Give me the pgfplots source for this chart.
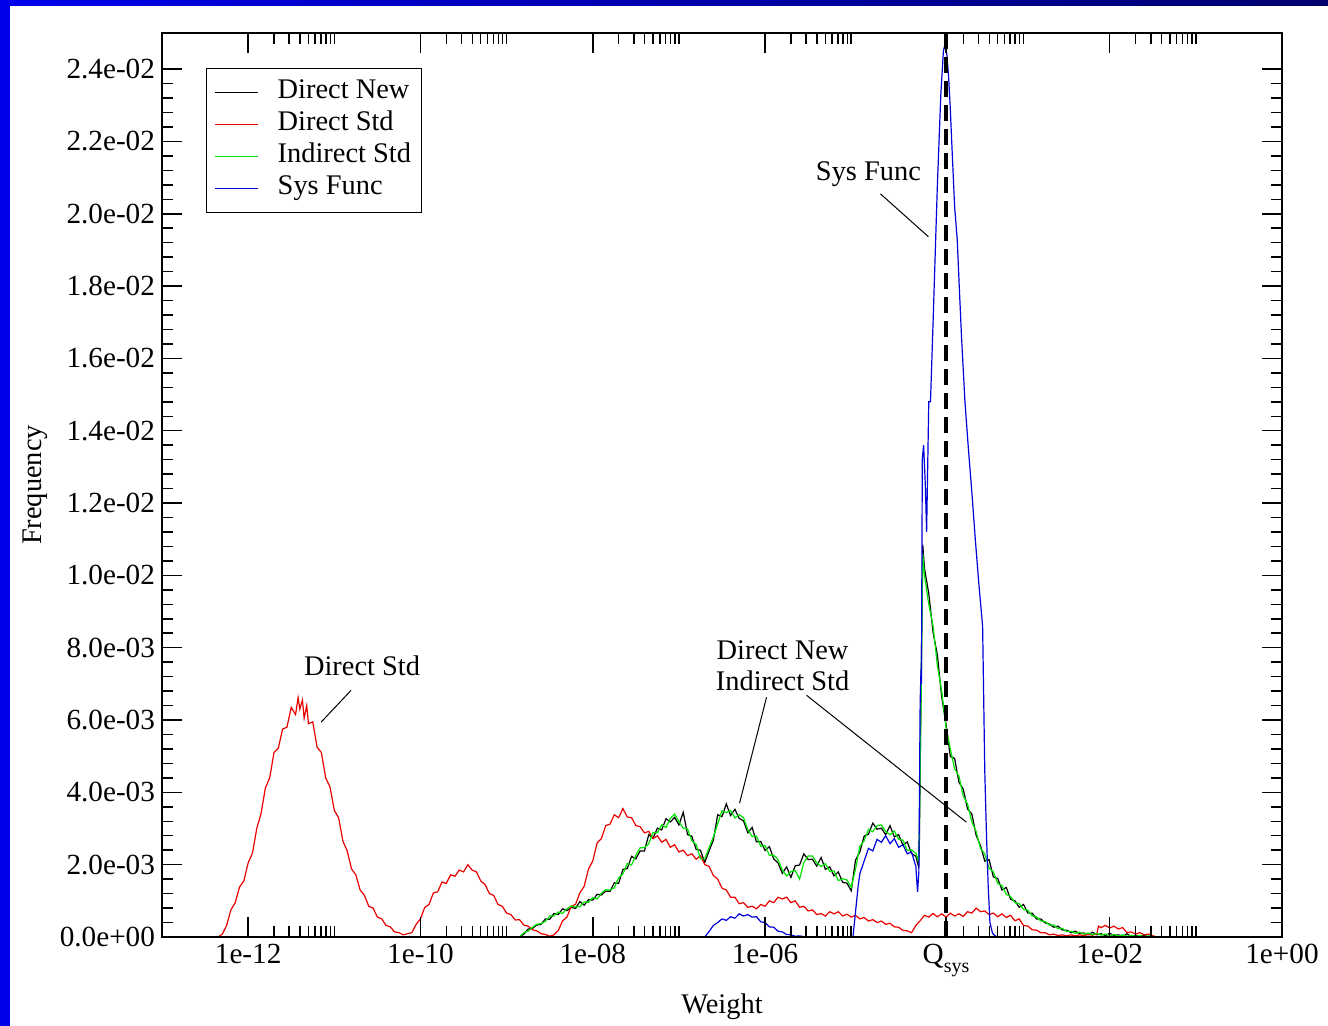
\documentclass[border=0pt]{standalone}
\usepackage{fontspec}
\setmainfont{Liberation Serif}
\usepackage{pgfplots}
\pgfplotsset{compat=1.18}
\definecolor{gred}{RGB}{235,0,0}
\definecolor{ggreen}{RGB}{0,230,0}
\definecolor{gblue}{RGB}{0,0,220}
\definecolor{slideblue}{RGB}{0,0,235}
\definecolor{slidenavy}{RGB}{0,0,110}
\newcommand{\lbl}{\fontsize{14.2}{16}\selectfont}
\newcommand{\tlbl}{\fontsize{14.6}{16}\selectfont}

\begin{document}
\begin{tikzpicture}
% slide background
\fill[white] (-81pt,-44.5pt) rectangle (583pt,468.5pt);
\fill[slideblue] (-81pt,-44.5pt) rectangle (-76pt,468.5pt);
\shade[left color=slideblue,right color=slidenavy] (-81pt,465.5pt) rectangle (583pt,468.5pt);

\begin{axis}[
  scale only axis, width=560pt, height=452pt,
  xmin=-13, xmax=0, ymin=0, ymax=0.025,
  axis on top,
  axis line style={line width=1pt},
  xtick={-12,-10,-8,-6,-3.9,-2,0},
  xticklabels={1e-12,1e-10,1e-08,1e-06,Q\raisebox{-4.5pt}{\fontsize{10}{12}\selectfont sys},1e-02,1e+00},
  minor xtick={-11.699,-11.523,-11.398,-11.301,-11.222,-11.155,-11.097,-11.046,-11,
    -9.699,-9.523,-9.398,-9.301,-9.222,-9.155,-9.097,-9.046,-9,
    -7.699,-7.523,-7.398,-7.301,-7.222,-7.155,-7.097,-7.046,-7,
    -5.699,-5.523,-5.398,-5.301,-5.222,-5.155,-5.097,-5.046,-5,
    -3.699,-3.523,-3.398,-3.301,-3.222,-3.155,-3.097,-3.046,-3,
    -1.699,-1.523,-1.398,-1.301,-1.222,-1.155,-1.097,-1.046,-1},
  ytick={0,0.002,0.004,0.006,0.008,0.010,0.012,0.014,0.016,0.018,0.020,0.022,0.024},
  yticklabels={0.0e+00,2.0e-03,4.0e-03,6.0e-03,8.0e-03,1.0e-02,1.2e-02,1.4e-02,1.6e-02,1.8e-02,2.0e-02,2.2e-02,2.4e-02},
  minor y tick num=4,
  scaled y ticks=false,
  major tick length=10pt, minor tick length=5.5pt,
  tick style={black, line width=0.75pt},
  tick label style={font=\tlbl},
  label style={font=\lbl},
  xlabel={Weight}, ylabel={Frequency},
  xlabel style={at={(axis description cs:0.5,-0.0774)}, anchor=center},
  ylabel style={at={(axis description cs:-0.1134,0.5)}, anchor=center},
  every axis plot/.append style={line width=0.6pt},
  legend style={at={(0.0393,0.9613)}, anchor=north west, draw=black, line width=0.5pt,
    font=\lbl, inner xsep=4pt, inner ysep=4pt, column sep=8.5pt,
    nodes={inner sep=1pt, text height=10pt, text depth=4pt}},
  legend cell align=left,
  legend image code/.code={\draw[#1] (0pt,0pt) -- (21.5pt,0pt);},
]

% Direct New
\addplot[black] coordinates {
(-8.85,0)(-8.80,0.08e-3)(-8.75,0.22e-3)(-8.70,0.24e-3)(-8.65,0.33e-3)(-8.60,0.35e-3)(-8.55,0.50e-3)(-8.50,0.49e-3)
(-8.45,0.65e-3)(-8.40,0.62e-3)(-8.35,0.78e-3)(-8.30,0.73e-3)(-8.25,0.82e-3)(-8.20,0.79e-3)(-8.15,0.98e-3)(-8.10,0.88e-3)
(-8.05,1.03e-3)(-8.00,1.02e-3)(-7.95,1.18e-3)(-7.90,1.16e-3)(-7.85,1.27e-3)(-7.80,1.26e-3)(-7.75,1.50e-3)(-7.70,1.48e-3)
(-7.65,1.87e-3)(-7.60,1.89e-3)(-7.55,2.23e-3)(-7.50,2.16e-3)(-7.45,2.38e-3)(-7.40,2.38e-3)(-7.35,2.83e-3)(-7.30,2.73e-3)
(-7.25,3.01e-3)(-7.20,2.96e-3)(-7.15,3.27e-3)(-7.10,3.18e-3)(-7.05,3.31e-3)(-7.00,3.10e-3)(-6.95,3.45e-3)(-6.90,2.83e-3)
(-6.85,2.79e-3)(-6.80,2.42e-3)(-6.75,2.40e-3)(-6.70,2.06e-3)(-6.65,2.38e-3)(-6.60,2.68e-3)(-6.55,3.38e-3)(-6.50,3.33e-3)
(-6.45,3.68e-3)(-6.40,3.36e-3)(-6.35,3.53e-3)(-6.30,3.28e-3)(-6.25,3.21e-3)(-6.20,2.88e-3)(-6.15,3.03e-3)(-6.10,2.63e-3)
(-6.05,2.64e-3)(-6.00,2.39e-3)(-5.95,2.50e-3)(-5.90,2.16e-3)(-5.85,2.05e-3)(-5.80,1.76e-3)(-5.75,1.94e-3)(-5.70,1.65e-3)
(-5.65,1.97e-3)(-5.60,1.99e-3)(-5.55,2.30e-3)(-5.50,2.14e-3)(-5.45,2.15e-3)(-5.40,1.96e-3)(-5.35,2.20e-3)(-5.30,1.87e-3)
(-5.25,1.94e-3)(-5.20,1.69e-3)(-5.15,1.80e-3)(-5.10,1.51e-3)(-5.05,1.49e-3)(-5.00,1.28e-3)(-4.95,2.13e-3)(-4.90,2.35e-3)
(-4.85,2.79e-3)(-4.80,2.84e-3)(-4.75,3.15e-3)(-4.70,2.98e-3)(-4.65,3.01e-3)(-4.60,2.83e-3)(-4.55,3.08e-3)(-4.50,2.77e-3)
(-4.45,2.83e-3)(-4.40,2.54e-3)(-4.35,2.63e-3)(-4.30,2.31e-3)(-4.25,2.23e-3)(-4.22,1.95e-3)(-4.21,2.40e-3)(-4.19,6.80e-3)
(-4.17,10.85e-3)(-4.15,10.20e-3)(-4.10,9.50e-3)(-4.05,8.42e-3)(-4.00,7.80e-3)(-3.95,6.64e-3)(-3.90,5.89e-3)(-3.85,4.99e-3)
(-3.80,4.94e-3)(-3.75,4.28e-3)(-3.70,4.09e-3)(-3.65,3.54e-3)(-3.60,3.40e-3)(-3.55,2.81e-3)(-3.50,2.53e-3)(-3.45,2.10e-3)
(-3.40,2.14e-3)(-3.35,1.66e-3)(-3.30,1.62e-3)(-3.25,1.30e-3)(-3.20,1.37e-3)(-3.15,1.04e-3)(-3.10,1.00e-3)(-3.05,0.82e-3)
(-3.00,0.90e-3)(-2.95,0.66e-3)(-2.90,0.66e-3)(-2.85,0.50e-3)(-2.80,0.50e-3)(-2.75,0.39e-3)(-2.70,0.36e-3)(-2.65,0.27e-3)
(-2.60,0.30e-3)(-2.55,0.19e-3)(-2.50,0.19e-3)(-2.45,0.12e-3)(-2.40,0.16e-3)(-2.35,0.10e-3)(-2.30,0.11e-3)(-2.25,0.06e-3)
(-2.20,0.13e-3)(-2.15,0.06e-3)(-2.10,0.09e-3)(-2.05,0.04e-3)(-2.00,0.10e-3)(-1.95,0.04e-3)(-1.90,0.06e-3)(-1.85,0.01e-3)
(-1.80,0.09e-3)(-1.75,0.01e-3)(-1.70,0.05e-3)(-1.65,0.02e-3)(-1.60,0.04e-3)(-1.55,0.01e-3)(-1.50,0.02e-3)(-1.45,0)
};
\addlegendentry{Direct New}

% Direct Std
\addplot[gred] coordinates {
(-12.35,0)(-12.30,0.08e-3)(-12.25,0.32e-3)(-12.20,0.75e-3)(-12.15,0.95e-3)(-12.10,1.38e-3)(-12.05,1.55e-3)(-12.00,2.05e-3)
(-11.95,2.32e-3)(-11.90,3.00e-3)(-11.85,3.42e-3)(-11.80,4.12e-3)(-11.75,4.40e-3)(-11.70,5.10e-3)(-11.65,5.22e-3)(-11.60,5.75e-3)
(-11.55,5.80e-3)(-11.50,6.35e-3)(-11.45,6.15e-3)(-11.42,6.62e-3)(-11.40,6.30e-3)(-11.37,6.55e-3)(-11.35,6.05e-3)(-11.32,6.40e-3)
(-11.30,5.90e-3)(-11.25,5.95e-3)(-11.20,5.25e-3)(-11.15,5.10e-3)(-11.10,4.40e-3)(-11.05,4.15e-3)(-11.00,3.50e-3)(-10.95,3.30e-3)
(-10.90,2.65e-3)(-10.85,2.38e-3)(-10.80,1.88e-3)(-10.75,1.72e-3)(-10.70,1.30e-3)(-10.65,1.15e-3)(-10.60,0.85e-3)(-10.55,0.80e-3)
(-10.50,0.55e-3)(-10.45,0.50e-3)(-10.40,0.32e-3)(-10.35,0.28e-3)(-10.30,0.14e-3)(-10.25,0.12e-3)(-10.20,0.06e-3)(-10.15,0.09e-3)
(-10.10,0.12e-3)(-10.05,0.35e-3)(-10.00,0.50e-3)(-9.95,0.82e-3)(-9.90,0.90e-3)(-9.85,1.22e-3)(-9.80,1.25e-3)(-9.75,1.52e-3)
(-9.70,1.48e-3)(-9.65,1.72e-3)(-9.60,1.68e-3)(-9.55,1.85e-3)(-9.50,1.80e-3)(-9.45,2.00e-3)(-9.40,1.85e-3)(-9.35,1.80e-3)
(-9.30,1.55e-3)(-9.25,1.45e-3)(-9.20,1.20e-3)(-9.15,1.15e-3)(-9.10,0.90e-3)(-9.05,0.85e-3)(-9.00,0.66e-3)(-8.95,0.62e-3)
(-8.90,0.47e-3)(-8.85,0.48e-3)(-8.80,0.33e-3)(-8.75,0.30e-3)(-8.70,0.20e-3)(-8.65,0.17e-3)(-8.60,0.09e-3)(-8.55,0.07e-3)
(-8.50,0.02e-3)(-8.45,0.06e-3)(-8.40,0.18e-3)(-8.35,0.45e-3)(-8.30,0.55e-3)(-8.25,0.85e-3)(-8.20,0.90e-3)(-8.15,1.22e-3)
(-8.10,1.40e-3)(-8.05,1.88e-3)(-8.00,2.10e-3)(-7.95,2.60e-3)(-7.90,2.72e-3)(-7.85,3.08e-3)(-7.80,3.12e-3)(-7.75,3.38e-3)
(-7.70,3.30e-3)(-7.65,3.55e-3)(-7.60,3.32e-3)(-7.55,3.30e-3)(-7.50,3.08e-3)(-7.45,3.05e-3)(-7.40,2.88e-3)(-7.35,2.92e-3)
(-7.30,2.72e-3)(-7.25,2.80e-3)(-7.20,2.62e-3)(-7.15,2.70e-3)(-7.10,2.48e-3)(-7.05,2.55e-3)(-7.00,2.35e-3)(-6.95,2.40e-3)
(-6.90,2.25e-3)(-6.85,2.30e-3)(-6.80,2.15e-3)(-6.75,2.25e-3)(-6.70,2.00e-3)(-6.65,1.95e-3)(-6.60,1.70e-3)(-6.55,1.60e-3)
(-6.50,1.35e-3)(-6.45,1.30e-3)(-6.40,1.10e-3)(-6.35,1.10e-3)(-6.30,0.92e-3)(-6.25,0.95e-3)(-6.20,0.82e-3)(-6.15,0.85e-3)
(-6.10,0.78e-3)(-6.05,0.90e-3)(-6.00,0.85e-3)(-5.95,1.00e-3)(-5.90,0.95e-3)(-5.85,1.10e-3)(-5.80,1.05e-3)(-5.75,1.10e-3)
(-5.70,0.95e-3)(-5.65,1.00e-3)(-5.60,0.82e-3)(-5.55,0.85e-3)(-5.50,0.72e-3)(-5.45,0.75e-3)(-5.40,0.62e-3)(-5.35,0.65e-3)
(-5.30,0.58e-3)(-5.25,0.70e-3)(-5.20,0.64e-3)(-5.15,0.70e-3)(-5.10,0.58e-3)(-5.05,0.63e-3)(-5.00,0.55e-3)(-4.95,0.60e-3)
(-4.90,0.50e-3)(-4.85,0.54e-3)(-4.80,0.44e-3)(-4.75,0.48e-3)(-4.70,0.40e-3)(-4.65,0.44e-3)(-4.60,0.35e-3)(-4.55,0.38e-3)
(-4.50,0.28e-3)(-4.45,0.27e-3)(-4.40,0.18e-3)(-4.35,0.17e-3)(-4.30,0.12e-3)(-4.25,0.32e-3)(-4.20,0.45e-3)(-4.15,0.60e-3)
(-4.10,0.55e-3)(-4.05,0.65e-3)(-4.00,0.56e-3)(-3.95,0.64e-3)(-3.90,0.55e-3)(-3.85,0.66e-3)(-3.80,0.58e-3)(-3.75,0.64e-3)
(-3.70,0.57e-3)(-3.65,0.70e-3)(-3.60,0.66e-3)(-3.55,0.80e-3)(-3.50,0.70e-3)(-3.45,0.72e-3)(-3.40,0.62e-3)(-3.35,0.66e-3)
(-3.30,0.56e-3)(-3.25,0.64e-3)(-3.20,0.54e-3)(-3.15,0.60e-3)(-3.10,0.45e-3)(-3.05,0.50e-3)(-3.00,0.32e-3)(-2.95,0.30e-3)
(-2.90,0.20e-3)(-2.85,0.19e-3)(-2.80,0.12e-3)(-2.75,0.12e-3)(-2.70,0.06e-3)(-2.65,0.08e-3)(-2.60,0.04e-3)(-2.55,0.06e-3)
(-2.50,0.03e-3)(-2.45,0.06e-3)(-2.40,0.03e-3)(-2.35,0.06e-3)(-2.30,0.04e-3)(-2.25,0.07e-3)(-2.20,0.05e-3)(-2.15,0.08e-3)
(-2.13,0.30e-3)(-2.10,0.26e-3)(-2.05,0.32e-3)(-2.00,0.25e-3)(-1.95,0.30e-3)(-1.90,0.22e-3)(-1.85,0.26e-3)(-1.80,0.12e-3)
(-1.75,0.14e-3)(-1.70,0.08e-3)(-1.65,0.12e-3)(-1.60,0.06e-3)(-1.55,0.08e-3)(-1.50,0.03e-3)(-1.45,0)
};
\addlegendentry{Direct Std}

% Indirect Std
\addplot[ggreen] coordinates {
(-8.85,0)(-8.80,0.12e-3)(-8.75,0.16e-3)(-8.70,0.27e-3)(-8.65,0.35e-3)(-8.60,0.37e-3)(-8.55,0.43e-3)(-8.50,0.58e-3)
(-8.45,0.58e-3)(-8.40,0.69e-3)(-8.35,0.65e-3)(-8.30,0.78e-3)(-8.25,0.86e-3)(-8.20,0.83e-3)(-8.15,0.84e-3)(-8.10,0.97e-3)
(-8.05,0.96e-3)(-8.00,1.09e-3)(-7.95,1.05e-3)(-7.90,1.21e-3)(-7.85,1.31e-3)(-7.80,1.30e-3)(-7.75,1.36e-3)(-7.70,1.64e-3)
(-7.65,1.74e-3)(-7.60,2.03e-3)(-7.55,1.99e-3)(-7.50,2.26e-3)(-7.45,2.47e-3)(-7.40,2.47e-3)(-7.35,2.58e-3)(-7.30,2.89e-3)
(-7.25,2.88e-3)(-7.20,3.10e-3)(-7.15,3.03e-3)(-7.10,3.28e-3)(-7.05,3.40e-3)(-7.00,3.19e-3)(-6.95,3.01e-3)(-6.90,2.99e-3)
(-6.85,2.66e-3)(-6.80,2.56e-3)(-6.75,2.16e-3)(-6.70,2.16e-3)(-6.65,2.47e-3)(-6.60,2.77e-3)(-6.55,3.13e-3)(-6.50,3.49e-3)
(-6.45,3.44e-3)(-6.40,3.50e-3)(-6.35,3.29e-3)(-6.30,3.38e-3)(-6.25,3.30e-3)(-6.20,2.97e-3)(-6.15,2.78e-3)(-6.10,2.79e-3)
(-6.05,2.51e-3)(-6.00,2.53e-3)(-5.95,2.26e-3)(-5.90,2.26e-3)(-5.85,2.14e-3)(-5.80,1.85e-3)(-5.75,1.69e-3)(-5.70,1.81e-3)
(-5.65,1.84e-3)(-5.60,1.60e-3)(-5.55,2.06e-3)(-5.50,2.24e-3)(-5.45,2.24e-3)(-5.40,2.05e-3)(-5.35,1.95e-3)(-5.30,2.03e-3)
(-5.25,1.81e-3)(-5.20,1.83e-3)(-5.15,1.56e-3)(-5.10,1.61e-3)(-5.05,1.58e-3)(-5.00,1.37e-3)(-4.95,1.88e-3)(-4.90,2.51e-3)
(-4.85,2.66e-3)(-4.80,2.98e-3)(-4.75,2.91e-3)(-4.70,3.08e-3)(-4.65,3.10e-3)(-4.60,2.92e-3)(-4.55,2.83e-3)(-4.50,2.93e-3)
(-4.45,2.70e-3)(-4.40,2.68e-3)(-4.35,2.39e-3)(-4.30,2.41e-3)(-4.25,2.32e-3)(-4.22,2.10e-3)(-4.21,2.85e-3)(-4.19,6.40e-3)
(-4.17,10.60e-3)(-4.15,10.00e-3)(-4.10,9.20e-3)(-4.05,8.60e-3)(-4.00,7.50e-3)(-3.95,6.80e-3)(-3.90,5.80e-3)(-3.85,5.20e-3)
(-3.80,4.65e-3)(-3.75,4.45e-3)(-3.70,3.90e-3)(-3.65,3.68e-3)(-3.60,3.18e-3)(-3.55,2.92e-3)(-3.50,2.45e-3)(-3.45,2.30e-3)
(-3.40,1.90e-3)(-3.35,1.80e-3)(-3.30,1.48e-3)(-3.25,1.42e-3)(-3.20,1.18e-3)(-3.15,1.12e-3)(-3.10,0.95e-3)(-3.05,0.92e-3)
(-3.00,0.76e-3)(-2.95,0.74e-3)(-2.90,0.58e-3)(-2.85,0.56e-3)(-2.80,0.44e-3)(-2.75,0.43e-3)(-2.70,0.33e-3)(-2.65,0.33e-3)
(-2.60,0.23e-3)(-2.55,0.24e-3)(-2.50,0.15e-3)(-2.45,0.16e-3)(-2.40,0.10e-3)(-2.35,0.13e-3)(-2.30,0.08e-3)(-2.25,0.11e-3)
(-2.20,0.06e-3)(-2.15,0.10e-3)(-2.10,0.05e-3)(-2.05,0.08e-3)(-2.00,0.04e-3)(-1.95,0.07e-3)(-1.90,0.03e-3)(-1.85,0.06e-3)
(-1.80,0.02e-3)(-1.75,0.05e-3)(-1.70,0.02e-3)(-1.65,0.04e-3)(-1.60,0.01e-3)(-1.55,0.03e-3)(-1.50,0.01e-3)(-1.45,0)
};
\addlegendentry{Indirect Std}

% Sys Func
\addplot[gblue] coordinates {
(-6.70,0)(-6.65,0.15e-3)(-6.60,0.32e-3)(-6.55,0.40e-3)(-6.50,0.50e-3)(-6.45,0.46e-3)(-6.40,0.56e-3)(-6.35,0.52e-3)
(-6.30,0.64e-3)(-6.25,0.58e-3)(-6.20,0.62e-3)(-6.15,0.55e-3)(-6.10,0.56e-3)(-6.05,0.42e-3)(-6.00,0.40e-3)(-5.95,0.28e-3)
(-5.90,0.27e-3)(-5.85,0.16e-3)(-5.80,0.14e-3)(-5.75,0.07e-3)(-5.70,0.06e-3)(-5.65,0.02e-3)(-5.60,0.03e-3)(-5.55,0.01e-3)
(-5.50,0)(-4.98,0)(-4.95,0.70e-3)(-4.92,1.40e-3)(-4.90,1.75e-3)(-4.85,2.10e-3)(-4.80,2.45e-3)(-4.75,2.38e-3)
(-4.70,2.70e-3)(-4.65,2.62e-3)(-4.60,2.80e-3)(-4.55,2.58e-3)(-4.50,2.72e-3)(-4.45,2.48e-3)(-4.40,2.55e-3)(-4.35,2.30e-3)
(-4.30,2.35e-3)(-4.25,1.95e-3)(-4.23,1.25e-3)(-4.215,1.80e-3)(-4.20,6.50e-3)(-4.19,7.40e-3)(-4.185,7.00e-3)(-4.175,13.2e-3)
(-4.16,13.6e-3)(-4.14,12.5e-3)(-4.125,11.2e-3)(-4.10,14.8e-3)(-4.08,14.8e-3)(-4.05,17.0e-3)(-4.00,20.8e-3)(-3.96,23.3e-3)
(-3.93,24.5e-3)(-3.91,24.7e-3)(-3.89,24.4e-3)(-3.87,23.8e-3)(-3.85,22.9e-3)(-3.83,21.8e-3)(-3.80,20.2e-3)(-3.77,19.3e-3)
(-3.75,18.2e-3)(-3.72,16.6e-3)(-3.68,14.8e-3)(-3.64,13.5e-3)(-3.60,12.3e-3)(-3.56,11.0e-3)(-3.52,9.8e-3)(-3.49,9.0e-3)
(-3.475,8.6e-3)(-3.465,7.0e-3)(-3.45,4.6e-3)(-3.43,2.8e-3)(-3.41,1.4e-3)(-3.39,0.4e-3)(-3.36,0.1e-3)(-3.33,0.03e-3)(-3.29,0)
};
\addlegendentry{Sys Func}

% Q_sys marker
\addplot[black, line width=2pt, dash pattern=on 8pt off 4pt, forget plot] coordinates {(-3.9,0) (-3.9,0.025)};

% annotations
\node[font=\lbl] at (axis cs:-10.678,7.51e-3) {Direct Std};
\draw[line width=0.5pt] (axis cs:-10.806,6.82e-3) -- (axis cs:-11.154,5.94e-3);
\node[font=\lbl] at (axis cs:-4.800,0.021105) {Sys Func};
\draw[line width=0.5pt] (axis cs:-4.661,0.020552) -- (axis cs:-4.104,0.019365);
\node[font=\fontsize{14.2}{15.5}\selectfont, align=center] at (axis cs:-5.797,0.007514) {Direct New\\Indirect Std};
\draw[line width=0.5pt] (axis cs:-5.983,0.00663) -- (axis cs:-6.296,0.003702);
\draw[line width=0.5pt] (axis cs:-5.519,0.006685) -- (axis cs:-3.664,0.003177);
\end{axis}
\pgfresetboundingbox
\path[use as bounding box] (-81pt,-44.5pt) rectangle (583pt,468.5pt);
\end{tikzpicture}
\end{document}
